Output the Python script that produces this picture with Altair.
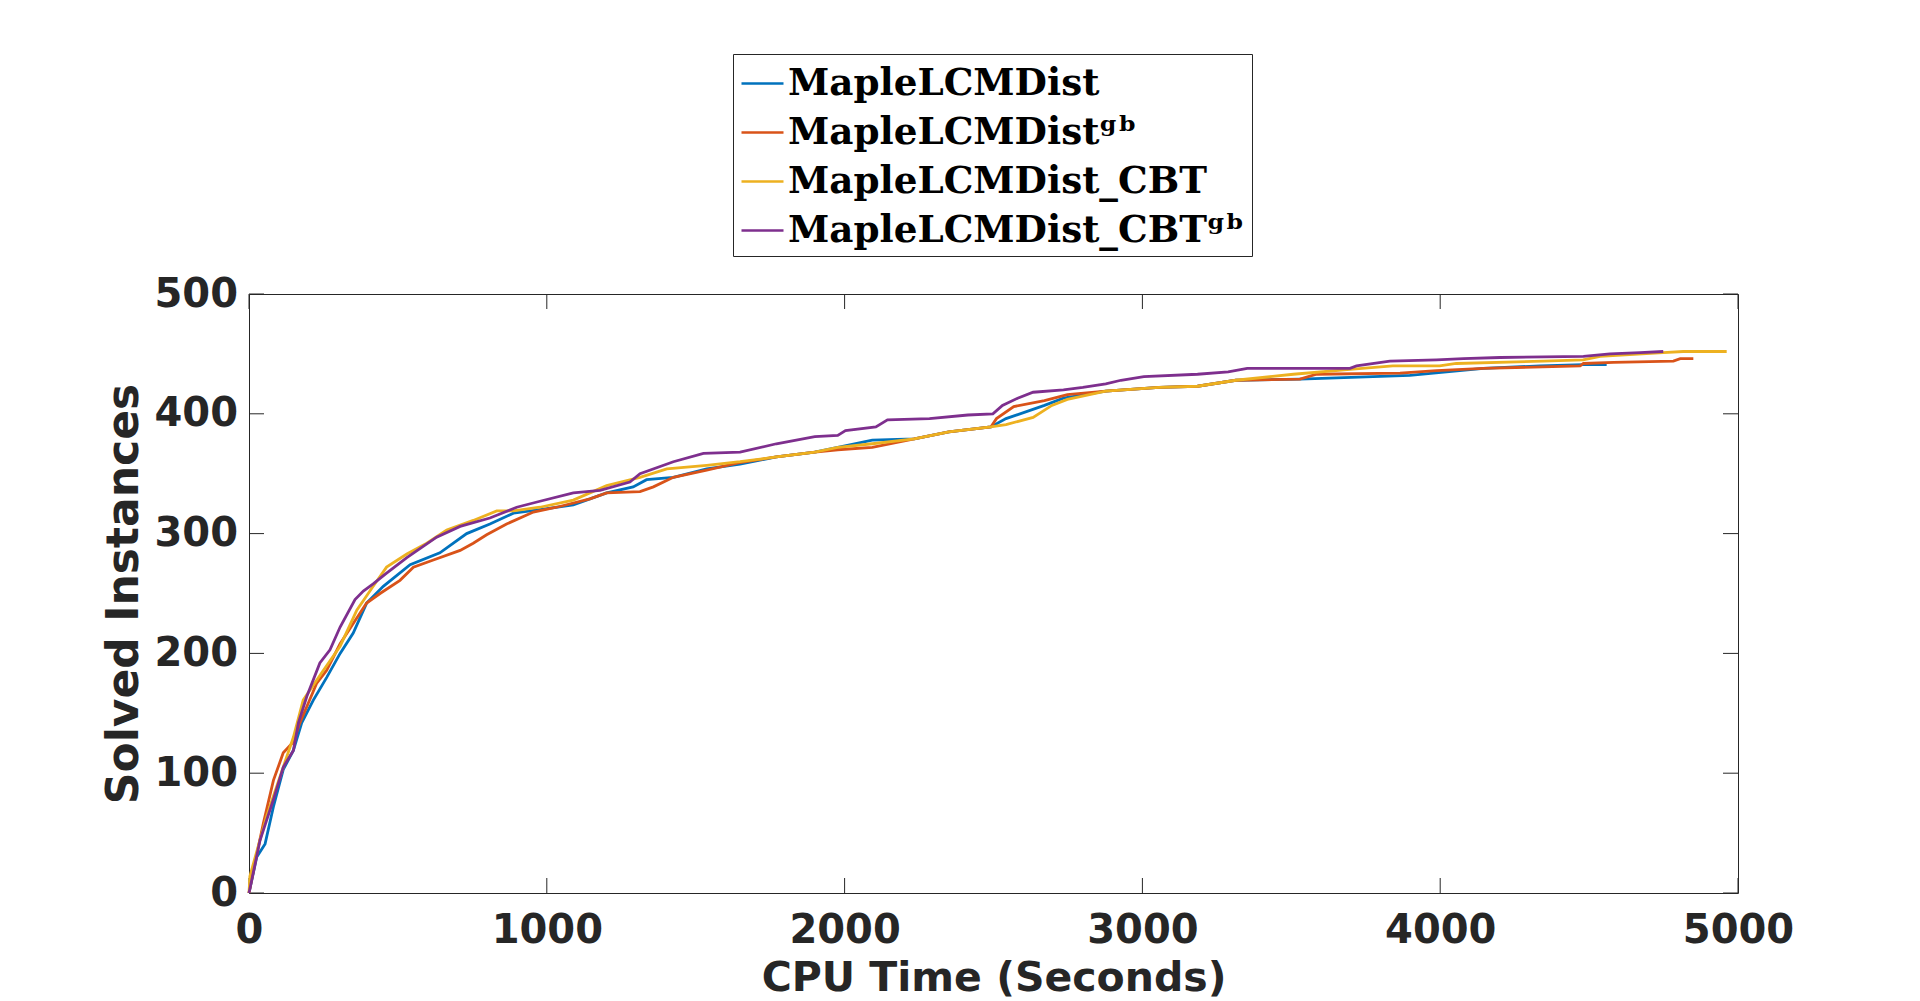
import altair as alt
import pandas as pd

# Solver names (legend order) and MATLAB-style line colours
series_names = ["MapleLCMDist", "MapleLCMDistᵍᵇ", "MapleLCMDist_CBT", "MapleLCMDist_CBTᵍᵇ"]
series_colors = ["#0072BD", "#D95319", "#EDB120", "#7E2F8E"]

# Cactus curves: CPU time (s) against number of solved instances
base_time = [0, 26, 54, 82, 115, 149, 177, 216, 261, 306, 350, 395, 451, 541, 641, 731, 809, 888,
             977, 1089, 1201, 1290, 1335, 1425, 1537, 1649, 1771, 1900, 1977, 2093, 2234, 2350,
             2491, 2542, 2671, 2735, 2877, 3056, 3185, 3314, 3529, 3652, 3898, 4145, 4335, 4481, 4559]
base_solved = [0, 30, 41, 72, 103, 119, 142, 161, 180, 200, 217, 242, 256, 274, 284, 300, 308, 317,
               320, 324, 334, 339, 345, 347, 354, 358, 364, 368, 372, 378, 379, 385,
               389, 396, 407, 413, 419, 422, 423, 428, 429, 430, 432, 438, 440, 441, 441]

gb_time = [0, 20, 48, 82, 115, 149, 171, 227, 261, 306, 350, 395, 440, 507, 552, 619, 709, 753, 798,
           865, 955, 1033, 1145, 1201, 1313, 1358, 1425, 1537, 1643, 1771, 1900, 1977, 2093, 2234,
           2350, 2491, 2510, 2568, 2671, 2748, 2877, 3056, 3185, 3314, 3529, 3585, 3865, 3988, 4145,
           4313, 4470, 4481, 4582, 4783, 4806, 4850]
gb_solved = [0, 25, 58, 94, 117, 126, 142, 175, 186, 208, 225, 242, 250, 261, 272, 278, 286, 292, 299,
             308, 318, 322, 329, 334, 335, 339, 347, 353, 359, 364, 368, 370, 372, 379,
             385, 389, 396, 406, 411, 416, 419, 422, 423, 428, 429, 433, 434, 436, 438,
             439, 440, 442, 443, 444, 446, 446]

cbt_time = [0, 3, 59, 104, 149, 182, 250, 306, 362, 417, 462, 530, 597, 664, 753, 832, 888, 977,
            1089, 1201, 1313, 1403, 1537, 1649, 1771, 1900, 1977, 2093, 2234, 2350, 2491, 2542,
            2633, 2696, 2748, 2877, 3056, 3185, 3314, 3507, 3697, 3841, 3998, 4054, 4346, 4480,
            4537, 4749, 4816, 4962]
cbt_solved = [0, 14, 64, 97, 130, 161, 186, 206, 236, 256, 272, 283, 292, 303, 311, 319, 319, 322,
              328, 340, 347, 354, 357, 360, 364, 368, 372, 375, 379, 385, 389, 391,
              397, 407, 412, 419, 422, 423, 428, 433, 437, 440, 440, 442, 444, 445,
              448, 451, 452, 452]

cbt_gb_time = [0, 37, 82, 115, 149, 166, 194, 238, 272, 306, 356, 384, 417, 462, 530, 630, 709, 809,
               899, 977, 1089, 1179, 1279, 1313, 1425, 1526, 1649, 1771, 1900, 1977, 2003, 2105,
               2144, 2285, 2414, 2498, 2530, 2581, 2633, 2735, 2800, 2877, 2928, 3005, 3185, 3288,
               3352, 3697, 3719, 3831, 3988, 4078, 4201, 4481, 4570, 4671, 4749]
cbt_gb_solved = [0, 44, 78, 105, 119, 142, 164, 192, 203, 222, 245, 252, 258, 267, 280, 297, 306, 313,
                 322, 327, 334, 336, 343, 350, 360, 367, 368, 375, 381, 382, 386, 389,
                 395, 396, 399, 400, 407, 413, 418, 420, 422, 425, 428, 431, 433, 435,
                 438, 438, 440, 444, 445, 446, 447, 448, 450, 451, 452]

x_ticks = [0, 1000, 2000, 3000, 4000, 5000]
y_ticks = [0, 100, 200, 300, 400, 500]

rows = []
for name, ts, ns in zip(series_names,
                        [base_time, gb_time, cbt_time, cbt_gb_time],
                        [base_solved, gb_solved, cbt_solved, cbt_gb_solved]):
    for t, n in zip(ts, ns):
        rows.append({"series": name, "time": t, "solved": n})
df = pd.DataFrame(rows)

W, H = 1489, 599
AXIS_COLOR = "#262626"
TICK_LEN = 15

x_scale = alt.Scale(domain=[0, 5000], nice=False, zero=False)
y_scale = alt.Scale(domain=[0, 500], nice=False, zero=False)

# Shared axis definitions (reused by every layer so the merged axes agree)
x_axis = alt.Axis(values=x_ticks, format="d", title="CPU Time (Seconds)",
                  labelFont="DejaVu Sans", labelFontWeight="bold", labelFontSize=40,
                  labelColor=AXIS_COLOR, labelPadding=17, labelFlush=False,
                  labelOverlap=False, ticks=False, domain=False, grid=False,
                  titleFont="DejaVu Sans", titleFontWeight="bold", titleFontSize=41,
                  titleColor=AXIS_COLOR, titlePadding=8)
y_axis = alt.Axis(values=y_ticks, format="d", title="Solved Instances",
                  labelFont="DejaVu Sans", labelFontWeight="bold", labelFontSize=40,
                  labelColor=AXIS_COLOR, labelPadding=11.5, labelFlush=False,
                  labelOverlap=False, ticks=False, domain=False, grid=False,
                  titleFont="DejaVu Sans", titleFontWeight="bold", titleFontSize=44,
                  titleColor=AXIS_COLOR, titlePadding=8)

lines = alt.Chart(df).mark_line(strokeWidth=2.8).encode(
    x=alt.X("time:Q", scale=x_scale, axis=x_axis),
    y=alt.Y("solved:Q", scale=y_scale, axis=y_axis),
    color=alt.Color("series:N",
                    scale=alt.Scale(domain=series_names, range=series_colors),
                    legend=alt.Legend(orient="none", legendX=484, legendY=-240, title=None,
                                      direction="vertical",
                                      labelFont="DejaVu Serif", labelFontWeight="bold",
                                      labelFontSize=37.3, labelColor="black", labelLimit=1000,
                                      symbolType="stroke", symbolSize=1764,
                                      symbolStrokeWidth=2.5, labelOffset=3,
                                      rowPadding=8, padding=7,
                                      strokeColor="#262626", fillColor="white")),
)

# Inward-pointing tick marks on all four sides of the box
xt = pd.DataFrame({"time": x_ticks})
yt = pd.DataFrame({"solved": y_ticks})

bottom_ticks = alt.Chart(xt).mark_rule(color=AXIS_COLOR, strokeWidth=1).encode(
    x=alt.X("time:Q", scale=x_scale, axis=x_axis), y=alt.value(H), y2=alt.value(H - TICK_LEN))
top_ticks = alt.Chart(xt).mark_rule(color=AXIS_COLOR, strokeWidth=1).encode(
    x=alt.X("time:Q", scale=x_scale, axis=x_axis), y=alt.value(0), y2=alt.value(TICK_LEN))
left_ticks = alt.Chart(yt).mark_rule(color=AXIS_COLOR, strokeWidth=1).encode(
    y=alt.Y("solved:Q", scale=y_scale, axis=y_axis), x=alt.value(0), x2=alt.value(TICK_LEN))
right_ticks = alt.Chart(yt).mark_rule(color=AXIS_COLOR, strokeWidth=1).encode(
    y=alt.Y("solved:Q", scale=y_scale, axis=y_axis), x=alt.value(W), x2=alt.value(W - TICK_LEN))

chart = alt.layer(bottom_ticks, top_ticks, left_ticks, right_ticks, lines).properties(
    width=W, height=H,
    padding={"left": 249, "top": 294, "right": 182, "bottom": 108},
    autosize=alt.AutoSizeParams(type="none"),
    background="white",
).configure_view(stroke=AXIS_COLOR, strokeWidth=1)

chart.save("out.html", embed_options={"renderer": "svg", "actions": False})
